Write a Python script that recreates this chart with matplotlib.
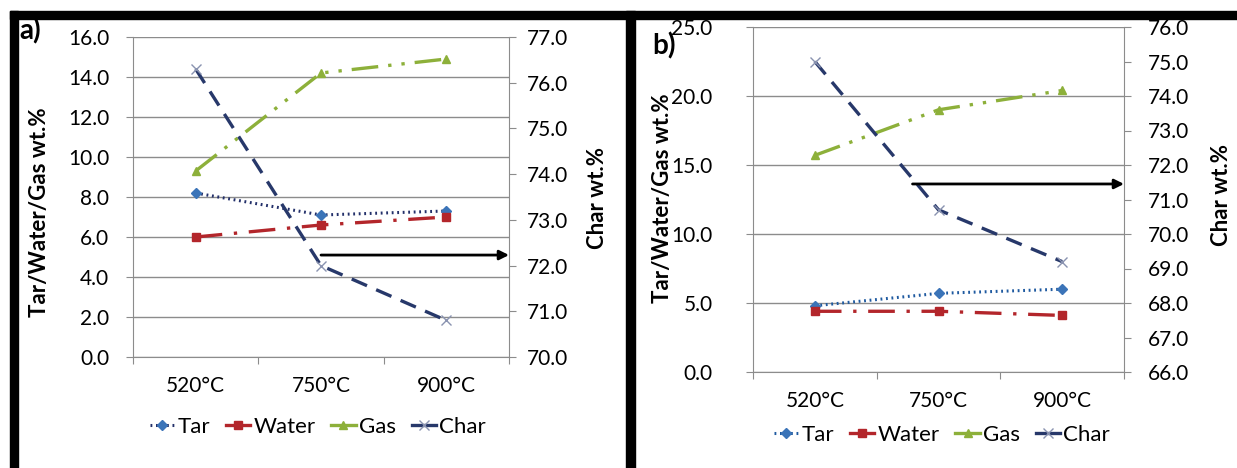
import matplotlib.pyplot as plt
from matplotlib.lines import Line2D

plt.rcParams['font.family'] = ['Lato', 'DejaVu Sans']

temps = ["520°C", "750°C", "900°C"]

# panel a
tar_a = [8.2, 7.1, 7.3]
water_a = [6.0, 6.6, 7.0]
gas_a = [9.3, 14.2, 14.9]
char_a = [76.3, 72.0, 70.8]

# panel b
tar_b = [4.8, 5.7, 6.0]
water_b = [4.4, 4.4, 4.1]
gas_b = [15.7, 19.0, 20.4]
char_b = [75.0, 70.7, 69.2]

W, H = 1237, 468
fig = plt.figure(figsize=(W / 100, H / 100), dpi=100)

GRID = "#8c8c8c"
RED = "#b3262b"
GREEN = "#8db03a"
NAVY = "#27386a"
FS = 15


def px_axes(left, right, top, bottom):
    return fig.add_axes([left / W, 1 - bottom / H, (right - left) / W, (bottom - top) / H])


def draw_panel(ax, tar, water, gas, char, tar_col, ylim, yticks, ylim2, yticks2,
               lpad, rpad, arrow_from, arrow_y):
    x = range(len(temps))
    ax2 = ax.twinx()

    ax.plot(x, tar, color=tar_col, lw=2.2, ls=(0, (0.6, 1.2)), marker="D", ms=5,
            mfc="#3b74b8", mec="#3b74b8", label="Tar", zorder=4)
    ax.plot(x, water, color=RED, lw=2.4, ls=(0, (8, 3.5, 1, 3.5)), marker="s", ms=6,
            mfc=RED, mec=RED, label="Water", zorder=4)
    ax.plot(x, gas, color=GREEN, lw=2.4, ls=(0, (8, 3, 1, 3, 1, 3)), marker="^", ms=6,
            mfc=GREEN, mec=GREEN, label="Gas", zorder=4)
    ax2.plot(x, char, color=NAVY, lw=2.4, ls=(0, (5, 3)), marker="x", ms=7,
             mec="#8a93b0", mew=1, label="Char", zorder=4)

    ax.set_xlim(-0.5, len(temps) - 0.5)
    ax.set_ylim(*ylim)
    ax.set_yticks(yticks)
    ax.set_yticklabels([f"{v:.1f}" for v in yticks])
    ax2.set_ylim(*ylim2)
    ax2.set_yticks(yticks2)
    ax2.set_yticklabels([f"{v:.1f}" for v in yticks2])

    # category boundaries carry the tick marks, centres carry the labels
    ax.set_xticks([i - 0.5 for i in range(len(temps) + 1)])
    ax.set_xticklabels([])
    ax.set_xticks(list(x), minor=True)
    ax.set_xticklabels(temps, minor=True)
    ax.tick_params(axis="x", which="major", length=5, color=GRID, direction="out")
    ax.tick_params(axis="x", which="minor", length=0, pad=14, labelsize=FS)
    ax.tick_params(axis="y", length=5, color=GRID, pad=lpad, labelsize=FS)
    ax2.tick_params(axis="y", length=5, color=GRID, pad=rpad, labelsize=FS)

    ax.yaxis.grid(True, color=GRID, lw=1)
    ax.set_axisbelow(True)
    for a in (ax, ax2):
        a.spines["top"].set_visible(False)
        for s in ("left", "right", "bottom"):
            a.spines[s].set_color(GRID)
    ax.spines["right"].set_visible(False)
    ax2.spines["left"].set_visible(False)
    ax2.spines["bottom"].set_visible(False)

    ax2.annotate("", xy=(len(temps) - 0.5, arrow_y), xytext=(arrow_from, arrow_y),
                 arrowprops=dict(arrowstyle="-|>", color="black", lw=2,
                                 mutation_scale=14, shrinkA=0, shrinkB=0),
                 zorder=5)
    return ax2


ax_a = px_axes(133, 509, 37, 357)
draw_panel(ax_a, tar_a, water_a, gas_a, char_a, "#23306a",
           (0, 16), [0, 2, 4, 6, 8, 10, 12, 14, 16],
           (70, 77), [70, 71, 72, 73, 74, 75, 76, 77],
           12, 8, 1.0, 72.23)

ax_b = px_axes(753, 1124, 27, 372)
draw_panel(ax_b, tar_b, water_b, gas_b, char_b, "#1f5aa0",
           (0, 25), [0, 5, 10, 15, 20, 25],
           (66, 76), [66, 67, 68, 69, 70, 71, 72, 73, 74, 75, 76],
           24, 12, 0.79, 71.45)

# axis titles
for xl, yl, xr, yr in ((40, 212, 598, 198), (662, 198, 1222, 195)):
    fig.text(xl / W, 1 - yl / H, "Tar/Water/Gas wt.%", rotation=90, ha="center",
             va="center", fontsize=16, fontweight="bold")
    fig.text(xr / W, 1 - yr / H, "Char wt.%", rotation=90, ha="center",
             va="center", fontsize=16, fontweight="bold")

fig.text(19 / W, 1 - 31 / H, "a)", ha="left", va="center", fontsize=20, fontweight="bold")
fig.text(652 / W, 1 - 46 / H, "b)", ha="left", va="center", fontsize=20, fontweight="bold")


def legend_handles(tar_col):
    return [
        Line2D([], [], color=tar_col, lw=2.2, ls=(0, (0.6, 1.2)), marker="D", ms=5,
               mfc="#3b74b8", mec="#3b74b8"),
        Line2D([], [], color=RED, lw=2.4, marker="s", ms=6, mfc=RED, mec=RED),
        Line2D([], [], color=GREEN, lw=2.4, marker="^", ms=6, mfc=GREEN, mec=GREEN),
        Line2D([], [], color=NAVY, lw=2.4, marker="x", ms=7, mec="#8a93b0", mew=1),
    ]


names = ["Tar", "Water", "Gas", "Char"]
for cx, cy, col in ((318, 427, "#23306a"), (942, 435, "#1f5aa0")):
    fig.legend(legend_handles(col), names, loc="center", ncol=4, frameon=False,
               bbox_to_anchor=(cx / W, 1 - cy / H), fontsize=FS + 1, handlelength=1.1,
               handletextpad=0.15, columnspacing=0.7)

# black panel frames
frame = dict(color="black", transform=fig.transFigure, zorder=10)
fig.add_artist(plt.Rectangle((10 / W, 1 - 19 / H), (W - 10) / W, 8 / H, **frame))
fig.add_artist(plt.Rectangle((10 / W, 0), 8 / W, 1 - 11 / H, **frame))
fig.add_artist(plt.Rectangle((626 / W, 0), 9 / W, 1 - 11 / H, **frame))

fig.savefig("out.png", dpi=100)
